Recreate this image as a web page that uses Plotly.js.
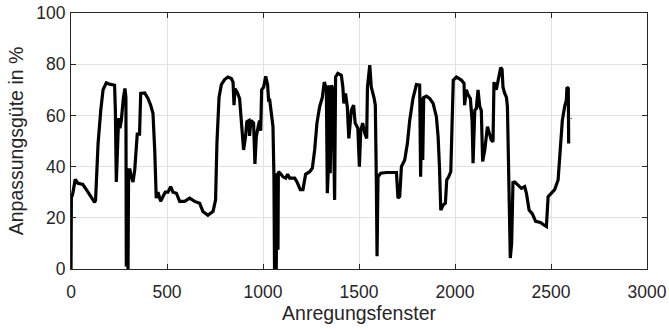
<!DOCTYPE html>
<html>
<head>
<meta charset="utf-8">
<script src="https://cdn.plot.ly/plotly-3.0.1.min.js"></script>
<style>html,body{margin:0;padding:0;background:#fff;}#chart{width:669px;height:329px;}</style>
</head>
<body>
<div id="chart"></div>
<script>
const windowIdx = [0,2,8,22,36,62,80,106,123,128,141,155,167,184,201,227,231,236,241,248,255,262,273,281,286,288,293,297,300,307,314,323,332,345,357,363,384,401,415,427,436,444,453,467,479,491,505,519,531,549,566,592,618,644,670,687,713,740,753,760,771,783,800,817,835,844,849,854,866,878,887,899,909,916,927,930,937,951,958,965,975,982,988,993,1003,1014,1024,1029,1035,1043,1052,1057,1060,1066,1069,1073,1078,1080,1090,1104,1118,1128,1139,1165,1177,1194,1208,1222,1243,1257,1269,1281,1295,1309,1319,1330,1335,1340,1343,1350,1357,1364,1373,1378,1390,1408,1416,1421,1430,1439,1447,1460,1472,1480,1494,1502,1509,1519,1530,1540,1544,1556,1564,1578,1585,1590,1594,1599,1613,1643,1695,1703,1712,1721,1738,1752,1764,1781,1799,1816,1821,1828,1832,1837,1851,1868,1886,1903,1912,1919,1926,1938,1950,1957,1967,1978,1985,1991,2007,2033,2047,2050,2059,2068,2080,2089,2094,2103,2111,2120,2129,2137,2144,2155,2169,2181,2189,2198,2203,2215,2224,2238,2245,2250,2259,2268,2273,2281,2288,2295,2302,2311,2328,2346,2363,2372,2386,2403,2420,2445,2467,2476,2485,2502,2519,2537,2545,2549,2559,2571,2580,2583,2590,2592];
const fitQuality = [0,28,29,35,33.5,33,31,28,26,27,49,62,70,72.7,72.2,71.8,62,34,49,59,55,58,67,70.5,67,1,5,0,38.7,38.7,36,34,38.7,52.7,52.7,68.6,68.8,66.6,64,60.8,46.5,27.7,30,26.4,28.3,30,30,32.2,30,29.6,26.4,26.4,27.7,26.4,25.7,22.5,21,22.5,27,49,67,72,74,75,74.4,73,64,70.5,69,66.6,58,46.5,51.7,57.5,58,52,58,57,41,51.7,55.6,58,54,70,71,75.3,72,66,66,60.8,55.6,36,0,10,0,37.4,7.5,38,37.4,36,35.5,37,35.5,35.5,34,31,31,37,38,39.4,46.5,57,63.4,67,73,70.5,29.6,38.7,71.8,37.4,71.8,70,27,75,76.4,75.7,71,64.7,68.6,63.4,51,62,64,57,55,40,54,57,53,51,71,79.6,71,67,64,36,5,36,37.4,37.7,37.7,27.7,28.3,40,42.6,49,58,66.6,72,71.8,36,67,42.6,67,67.5,66.6,64.7,59.5,51.7,40,23,25,25.7,34.8,36,38,62,73.8,75,73.8,72.5,64,70,68,66.6,58,41.3,62,62.7,70,63.4,62,42,46.5,55.6,52.3,50.4,49.7,73,70,73,78.7,78,71,68.6,67,63.4,23,4.3,10,33.8,34,32.8,31.5,32.2,29.6,23,21.5,18.6,18.2,17,16.6,28.3,29.6,31,34.8,42.6,49,58,63.4,66,71,70.5,49];
const lastIdx = [2604,2606];
const lastVal = [58.6,59];
const xTicks = [0,500,1000,1500,2000,2500,3000];
const yTicks = [0,20,40,60,80,100];

const FONT = 'Liberation Sans, Arial, sans-serif';
const axisCommon = {
  showline: true, mirror: 'allticks', linecolor: '#262626', linewidth: 1,
  ticks: 'inside', ticklen: 5, tickcolor: '#262626', tickwidth: 1,
  showgrid: true, gridcolor: '#e2e2e2', gridwidth: 1, zeroline: false,
  tickfont: {family: FONT, size: 17.5, color: '#262626'}
};

const data = [
  {x: windowIdx, y: fitQuality, type: 'scatter', mode: 'lines',
   line: {color: '#000000', width: 3.2}, hoverinfo: 'skip'},
  {x: lastIdx, y: lastVal, type: 'scatter', mode: 'lines',
   line: {color: '#000000', width: 1}, hoverinfo: 'skip'}
];

const layout = {
  width: 669, height: 329,
  margin: {l: 71, r: 22, t: 13, b: 60},
  paper_bgcolor: '#ffffff', plot_bgcolor: '#ffffff',
  showlegend: false,
  font: {family: FONT, size: 17.5, color: '#262626'},
  xaxis: Object.assign({}, axisCommon, {
    range: [0, 3000], tickvals: xTicks, ticktext: xTicks.map(String),
    ticklabelstandoff: 7,
    title: {text: 'Anregungsfenster', font: {family: FONT, size: 19.5, color: '#262626'}, standoff: 4}
  }),
  yaxis: Object.assign({}, axisCommon, {
    range: [0, 100], tickvals: yTicks, ticktext: yTicks.map(String),
    ticklabelstandoff: 1,
    title: {text: 'Anpassungsgüte in %', font: {family: FONT, size: 19.5, color: '#262626'}, standoff: 7}
  })
};

Plotly.newPlot('chart', data, layout, {displayModeBar: false, staticPlot: true});
</script>
</body>
</html>
